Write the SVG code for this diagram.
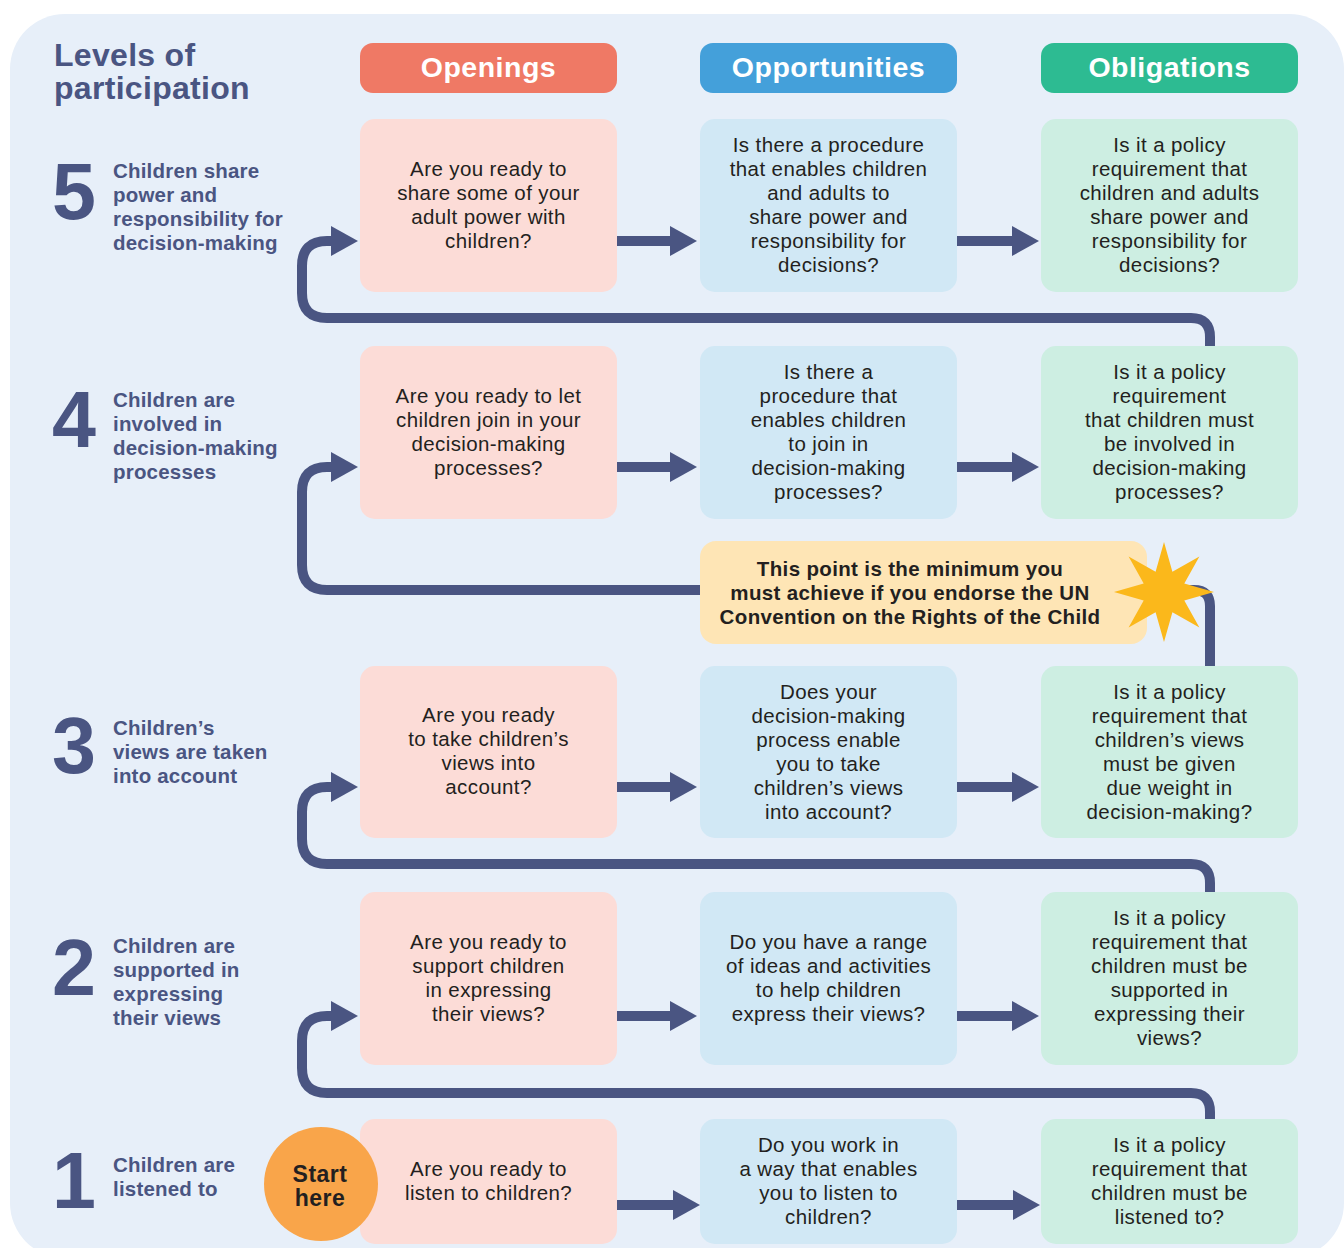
<svg xmlns="http://www.w3.org/2000/svg" width="1344" height="1248" viewBox="0 0 1344 1248">
<defs>
<style>
.hdr{font-family:"Liberation Sans",Arial,sans-serif;font-weight:bold;font-size:28.5px;letter-spacing:0.5px;fill:#fff;text-anchor:middle}
.bx{font-family:"Liberation Sans",Arial,sans-serif;font-size:20.5px;letter-spacing:0.4px;fill:#231F20;text-anchor:middle}
.lbl{font-family:"Liberation Sans",Arial,sans-serif;font-weight:bold;font-size:20.5px;letter-spacing:0.2px;fill:#4A5582}
.num{font-family:"Liberation Sans",Arial,sans-serif;font-weight:bold;font-size:79px;fill:#4A5582}
.ttl{font-family:"Liberation Sans",Arial,sans-serif;font-weight:bold;font-size:32px;letter-spacing:0.3px;fill:#4A5582}
.bold{font-family:"Liberation Sans",Arial,sans-serif;font-weight:bold;font-size:20.5px;letter-spacing:0.35px;fill:#231F20;text-anchor:middle}
.st{font-family:"Liberation Sans",Arial,sans-serif;font-weight:bold;font-size:23px;letter-spacing:0.5px;fill:#231F20;text-anchor:middle}
.pk{fill:#FCDCD7}.bl{fill:#D1E8F5}.gr{fill:#CDEEE2}
.ln{fill:none;stroke:#4A5582;stroke-width:10}
</style>
<marker id="ah" markerUnits="userSpaceOnUse" markerWidth="27" markerHeight="30" viewBox="0 0 27 30" refX="3" refY="15" orient="auto">
<path d="M0,0 L27,15 L0,30 Z" fill="#4A5582"/>
</marker>
</defs>
<rect x="10" y="14" width="1334" height="1244" rx="55" fill="#E7EFF9"/>
<g id="title">
<text class="ttl" x="54" y="66">Levels of</text>
<text class="ttl" x="54" y="99">participation</text>
</g>
<g id="headers">
<rect x="360" y="43" width="257" height="50" rx="13" fill="#EF7965"/>
<text class="hdr" x="488.5" y="77">Openings</text>
<rect x="700" y="43" width="257" height="50" rx="13" fill="#44A0DA"/>
<text class="hdr" x="828.5" y="77">Opportunities</text>
<rect x="1041" y="43" width="257" height="50" rx="13" fill="#2DBB92"/>
<text class="hdr" x="1169.5" y="77">Obligations</text>
</g>
<g id="levels">
<text class="num" x="52" y="219">5</text>
<text class="lbl" x="113" y="178">Children share</text>
<text class="lbl" x="113" y="202">power and</text>
<text class="lbl" x="113" y="226">responsibility for</text>
<text class="lbl" x="113" y="250">decision-making</text>
<text class="num" x="52" y="447">4</text>
<text class="lbl" x="113" y="407">Children are</text>
<text class="lbl" x="113" y="431">involved in</text>
<text class="lbl" x="113" y="455">decision-making</text>
<text class="lbl" x="113" y="479">processes</text>
<text class="num" x="52" y="773">3</text>
<text class="lbl" x="113" y="735">Children’s</text>
<text class="lbl" x="113" y="759">views are taken</text>
<text class="lbl" x="113" y="783">into account</text>
<text class="num" x="52" y="995">2</text>
<text class="lbl" x="113" y="953">Children are</text>
<text class="lbl" x="113" y="977">supported in</text>
<text class="lbl" x="113" y="1001">expressing</text>
<text class="lbl" x="113" y="1025">their views</text>
<text class="num" x="52" y="1208">1</text>
<text class="lbl" x="113" y="1172">Children are</text>
<text class="lbl" x="113" y="1196">listened to</text>
</g>
<g id="connectors">
<path class="ln" d="M617,241 H673" marker-end="url(#ah)"/>
<path class="ln" d="M957,241 H1015" marker-end="url(#ah)"/>
<path class="ln" d="M617,467 H673" marker-end="url(#ah)"/>
<path class="ln" d="M957,467 H1015" marker-end="url(#ah)"/>
<path class="ln" d="M617,787 H673" marker-end="url(#ah)"/>
<path class="ln" d="M957,787 H1015" marker-end="url(#ah)"/>
<path class="ln" d="M617,1016 H673" marker-end="url(#ah)"/>
<path class="ln" d="M957,1016 H1015" marker-end="url(#ah)"/>
<path class="ln" d="M617,1205 H676" marker-end="url(#ah)"/>
<path class="ln" d="M957,1205 H1016" marker-end="url(#ah)"/>
<path class="ln" d="M1210,346 V337 Q1210,318 1191,318 H327 Q302,318 302,293 V266 Q302,241 327,241 H334" marker-end="url(#ah)"/>
<path class="ln" d="M1210,666 V606 Q1210,590 1194,590 H327 Q302,590 302,565 V492 Q302,467 327,467 H334" marker-end="url(#ah)"/>
<path class="ln" d="M1210,892 V883 Q1210,864 1191,864 H327 Q302,864 302,839 V812 Q302,787 327,787 H334" marker-end="url(#ah)"/>
<path class="ln" d="M1210,1119 V1112 Q1210,1093 1191,1093 H327 Q302,1093 302,1068 V1041 Q302,1016 327,1016 H334" marker-end="url(#ah)"/>
</g>
<g id="n5a"><rect class="pk" x="360" y="119" width="257" height="173" rx="15"/>
<text class="bx" x="488.5" y="176">Are you ready to</text><text class="bx" x="488.5" y="200">share some of your</text><text class="bx" x="488.5" y="224">adult power with</text><text class="bx" x="488.5" y="248">children?</text></g>
<g id="n5b"><rect class="bl" x="700" y="119" width="257" height="173" rx="15"/>
<text class="bx" x="828.5" y="152">Is there a procedure</text><text class="bx" x="828.5" y="176">that enables children</text><text class="bx" x="828.5" y="200">and adults to</text><text class="bx" x="828.5" y="224">share power and</text><text class="bx" x="828.5" y="248">responsibility for</text><text class="bx" x="828.5" y="272">decisions?</text></g>
<g id="n5c"><rect class="gr" x="1041" y="119" width="257" height="173" rx="15"/>
<text class="bx" x="1169.5" y="152">Is it a policy</text><text class="bx" x="1169.5" y="176">requirement that</text><text class="bx" x="1169.5" y="200">children and adults</text><text class="bx" x="1169.5" y="224">share power and</text><text class="bx" x="1169.5" y="248">responsibility for</text><text class="bx" x="1169.5" y="272">decisions?</text></g>
<g id="n4a"><rect class="pk" x="360" y="346" width="257" height="173" rx="15"/>
<text class="bx" x="488.5" y="403">Are you ready to let</text><text class="bx" x="488.5" y="427">children join in your</text><text class="bx" x="488.5" y="451">decision-making</text><text class="bx" x="488.5" y="475">processes?</text></g>
<g id="n4b"><rect class="bl" x="700" y="346" width="257" height="173" rx="15"/>
<text class="bx" x="828.5" y="379">Is there a</text><text class="bx" x="828.5" y="403">procedure that</text><text class="bx" x="828.5" y="427">enables children</text><text class="bx" x="828.5" y="451">to join in</text><text class="bx" x="828.5" y="475">decision-making</text><text class="bx" x="828.5" y="499">processes?</text></g>
<g id="n4c"><rect class="gr" x="1041" y="346" width="257" height="173" rx="15"/>
<text class="bx" x="1169.5" y="379">Is it a policy</text><text class="bx" x="1169.5" y="403">requirement</text><text class="bx" x="1169.5" y="427">that children must</text><text class="bx" x="1169.5" y="451">be involved in</text><text class="bx" x="1169.5" y="475">decision-making</text><text class="bx" x="1169.5" y="499">processes?</text></g>
<g id="callout"><rect x="700" y="541" width="447" height="103" rx="16" fill="#FEE5B5"/>
<text class="bold" x="910" y="576">This point is the minimum you</text><text class="bold" x="910" y="600">must achieve if you endorse the UN</text><text class="bold" x="910" y="624">Convention on the Rights of the Child</text></g>
<g id="star"><polygon fill="#FBB81B" points="1164,542 1172.4,571.7 1199.4,556.6 1184.3,583.6 1214,592 1184.3,600.4 1199.4,627.4 1172.4,612.3 1164,642 1155.6,612.3 1128.6,627.4 1143.7,600.4 1114,592 1143.7,583.6 1128.6,556.6 1155.6,571.7"/></g>
<g id="n3a"><rect class="pk" x="360" y="666" width="257" height="172" rx="15"/>
<text class="bx" x="488.5" y="722">Are you ready</text><text class="bx" x="488.5" y="746">to take children’s</text><text class="bx" x="488.5" y="770">views into</text><text class="bx" x="488.5" y="794">account?</text></g>
<g id="n3b"><rect class="bl" x="700" y="666" width="257" height="172" rx="15"/>
<text class="bx" x="828.5" y="699">Does your</text><text class="bx" x="828.5" y="723">decision-making</text><text class="bx" x="828.5" y="747">process enable</text><text class="bx" x="828.5" y="771">you to take</text><text class="bx" x="828.5" y="795">children’s views</text><text class="bx" x="828.5" y="819">into account?</text></g>
<g id="n3c"><rect class="gr" x="1041" y="666" width="257" height="172" rx="15"/>
<text class="bx" x="1169.5" y="699">Is it a policy</text><text class="bx" x="1169.5" y="723">requirement that</text><text class="bx" x="1169.5" y="747">children’s views</text><text class="bx" x="1169.5" y="771">must be given</text><text class="bx" x="1169.5" y="795">due weight in</text><text class="bx" x="1169.5" y="819">decision-making?</text></g>
<g id="n2a"><rect class="pk" x="360" y="892" width="257" height="173" rx="15"/>
<text class="bx" x="488.5" y="949">Are you ready to</text><text class="bx" x="488.5" y="973">support children</text><text class="bx" x="488.5" y="997">in expressing</text><text class="bx" x="488.5" y="1021">their views?</text></g>
<g id="n2b"><rect class="bl" x="700" y="892" width="257" height="173" rx="15"/>
<text class="bx" x="828.5" y="949">Do you have a range</text><text class="bx" x="828.5" y="973">of ideas and activities</text><text class="bx" x="828.5" y="997">to help children</text><text class="bx" x="828.5" y="1021">express their views?</text></g>
<g id="n2c"><rect class="gr" x="1041" y="892" width="257" height="173" rx="15"/>
<text class="bx" x="1169.5" y="925">Is it a policy</text><text class="bx" x="1169.5" y="949">requirement that</text><text class="bx" x="1169.5" y="973">children must be</text><text class="bx" x="1169.5" y="997">supported in</text><text class="bx" x="1169.5" y="1021">expressing their</text><text class="bx" x="1169.5" y="1045">views?</text></g>
<g id="n1a"><rect class="pk" x="360" y="1119" width="257" height="125" rx="15"/>
<text class="bx" x="488.5" y="1176">Are you ready to</text><text class="bx" x="488.5" y="1200">listen to children?</text></g>
<g id="n1b"><rect class="bl" x="700" y="1119" width="257" height="125" rx="15"/>
<text class="bx" x="828.5" y="1152">Do you work in</text><text class="bx" x="828.5" y="1176">a way that enables</text><text class="bx" x="828.5" y="1200">you to listen to</text><text class="bx" x="828.5" y="1224">children?</text></g>
<g id="n1c"><rect class="gr" x="1041" y="1119" width="257" height="125" rx="15"/>
<text class="bx" x="1169.5" y="1152">Is it a policy</text><text class="bx" x="1169.5" y="1176">requirement that</text><text class="bx" x="1169.5" y="1200">children must be</text><text class="bx" x="1169.5" y="1224">listened to?</text></g>
<g id="start"><circle cx="321" cy="1184" r="57" fill="#F9A54A"/>
<text class="st" x="320" y="1182">Start</text><text class="st" x="320" y="1206">here</text></g>
</svg>
